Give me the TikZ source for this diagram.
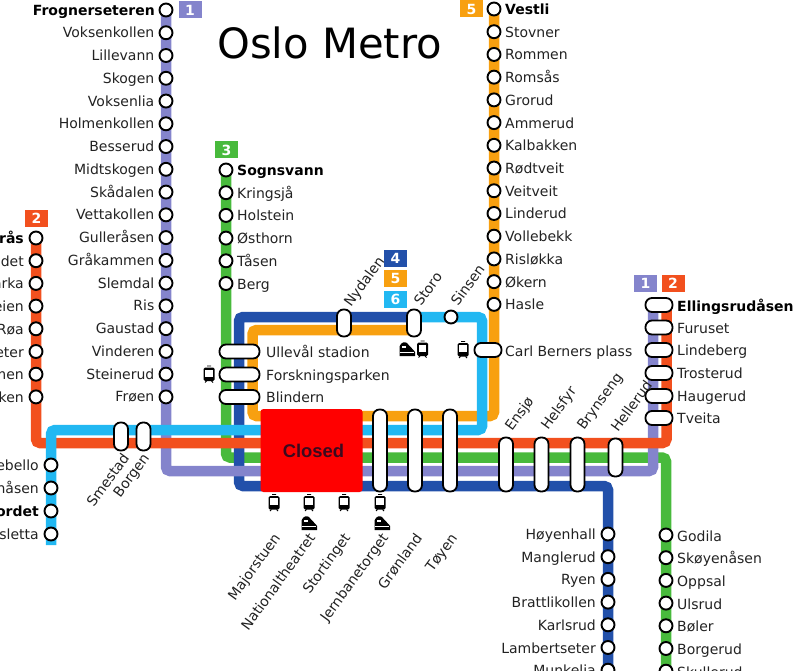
\documentclass[tikz,border=0pt]{standalone}
\usepackage{fontspec}
\setmainfont{DejaVu Sans}
\newfontfamily\closedfont{Liberation Sans}
\pgfdeclarelayer{lines}
\pgfsetlayers{lines,main}
\definecolor{cone}{HTML}{8484CC}
\definecolor{ctwo}{HTML}{F2501E}
\definecolor{cthree}{HTML}{48BA3C}
\definecolor{cfour}{HTML}{2250AA}
\definecolor{cfive}{HTML}{F8A010}
\definecolor{csix}{HTML}{22B8F2}
\definecolor{ctext}{HTML}{222222}
\tikzset{
 x=1pt,y=-1pt,
 metro/.style={line width=10.5pt,rounded corners=4pt,line cap=butt},
 stn/.style={circle,draw=black,fill=white,line width=1.9pt,minimum size=13pt,inner sep=0pt},
 hcap/.style={rectangle,rounded corners=6.5pt,draw=black,fill=white,line width=1.8pt,minimum width=#1,minimum height=14pt,inner sep=0pt},
 vcap/.style={rectangle,rounded corners=6.5pt,draw=black,fill=white,line width=1.8pt,minimum width=14pt,minimum height=#1,inner sep=0pt},
 lr/.style={anchor=base west,inner sep=0pt,text=ctext,font=\fontsize{14}{14}\selectfont},
 ll/.style={anchor=base east,inner sep=0pt,text=ctext,font=\fontsize{14}{14}\selectfont},
 boldl/.style={text=black,font=\bfseries\fontsize{14}{14}\selectfont},
 rup/.style={anchor=base west,rotate=54,inner sep=0pt,text=ctext,font=\fontsize{14}{14}\selectfont},
 rdn/.style={anchor=base east,rotate=54,inner sep=0pt,text=ctext,font=\fontsize{14}{14}\selectfont},
 badge/.style={rectangle,minimum width=23pt,minimum height=17pt,inner sep=0pt,text=white,font=\bfseries\fontsize{14}{14}\selectfont},
 tramicon/.pic={
  \fill[black,rounded corners=1.5pt] (-5.5,-7) rectangle (5.5,6.5);
  \fill[white] (-3.8,-5) rectangle (3.8,2);
  \draw[black,line width=0.8pt] (-4,8)--(-2.5,6.5) (4,8)--(2.5,6.5) (-2,-8.5)--(2,-8.5);
 },
 trainicon/.pic={
  \fill[black] (-7.5,7)--(-7.5,-2.5).. controls (-6,-7) and (-2,-7.5) .. (0,-6) .. controls (3,-2) and (7,1) .. (8,3)--(8,7)--cycle;
  \fill[white] (-5.5,-3.5) rectangle (-1,-1.5);
  \draw[white,line width=1pt] (-7.5,3)--(7,3);
 }
}
\begin{document}
\begin{tikzpicture}
\useasboundingbox (0,0) rectangle (800,671);
% line 1 stations
\node[stn] (frogner) at (166,10) {};
\foreach \n/\t [count=\i from 1] in {voksenk/Voksenkollen,lillev/Lillevann,skogen/Skogen,voksenl/Voksenlia,holmenk/Holmenkollen,besserud/Besserud,midtsk/Midtskogen,skadalen/Skådalen,vettak/Vettakollen,gulleras/Gulleråsen,grakam/Gråkammen,slemdal/Slemdal,ris/Ris,gaustad/Gaustad,vinderen/Vinderen,steinerud/Steinerud,froen/Frøen}{
 \node[stn] (\n) at (166,{10+22.76*\i}) {};
 \node[ll] (\n-t) at (154.5,{15+22.76*\i}) {\t};
}
\node[ll,boldl] (frogner-t) at (155,15.5) {Frognerseteren};
% line 3 stations
\node[stn] (sognsv) at (226,170) {};
\node[lr,boldl] (sognsv-t) at (237,175.5) {Sognsvann};
\foreach \n/\t [count=\i from 1] in {kringsja/Kringsjå,holstein/Holstein,osthorn/Østhorn,tasen/Tåsen,berg/Berg}{
 \node[stn] (\n) at (226,{170+22.7*\i}) {};
 \node[lr] (\n-t) at (237,{175.5+22.7*\i}) {\t};
}
% line 5 stations
\node[stn] (vestli) at (494,9) {};
\node[lr,boldl] (vestli-t) at (505,15) {Vestli};
\foreach \n/\t [count=\i from 1] in {stovner/Stovner,rommen/Rommen,romsas/Romsås,grorud/Grorud,ammerud/Ammerud,kalbakken/Kalbakken,rodtveit/Rødtveit,veitveit/Veitveit,linderud/Linderud,vollebekk/Vollebekk,rislokka/Risløkka,okern/Økern,hasle/Hasle}{
 \node[stn] (\n) at (494,{9+22.72*\i}) {};
 \node[lr] (\n-t) at (505,{14.5+22.72*\i}) {\t};
}
% line 2 west
\node[stn] (osteras) at (36,238) {};
\node[ll,boldl] (osteras-t) at (24,243.5) {rås};
\foreach \n/\t [count=\i from 1] in {lij/det,eik/arka,ekr/eien,roa/Røa,hov/eter,hol/men,mak/ken}{
 \node[stn] (\n) at (36,{238+22.7*\i}) {};
 \node[ll] (\n-t) at (24,{243.5+22.7*\i}) {\t};
}
% line 6 west
\foreach \n/\t/\y in {wa/ebello/465,wb/nåsen/488,wd/sletta/534}{
 \node[stn] (\n) at (51,\y) {};
 \node[ll] (\n-t) at (39,\y+5.5) {\t};
}
\node[stn] (wc) at (51,511) {};
\node[ll,boldl] (wc-t) at (39,516.5) {ordet};
% line 4 south
\foreach \n/\t [count=\i from 0] in {hoyen/Høyenhall,mangl/Manglerud,ryen/Ryen,bratt/Brattlikollen,karls/Karlsrud,lamb/Lambertseter,munk/Munkelia}{
 \node[stn] (\n) at (608,{534+22.7*\i}) {};
 \node[ll] (\n-t) at (596,{539.5+22.7*\i}) {\t};
}
% line 3 south
\foreach \n/\t [count=\i from 0] in {godila/Godila,skoy/Skøyenåsen,oppsal/Oppsal,ulsrud/Ulsrud,boler/Bøler,borger/Borgerud,skull/Skullerud}{
 \node[stn] (\n) at (666,{535+22.7*\i}) {};
 \node[lr] (\n-t) at (677,{541+22.7*\i}) {\t};
}
% interchange capsules
\foreach \n/\t/\y in {ull/Ullevål stadion/351.5,fors/Forskningsparken/374.5,blind/Blindern/397}{
 \node[hcap=40pt] (\n) at (239.5,\y) {};
 \node[lr] (\n-t) at (266,\y+5.5) {\t};
}
\node[hcap=27pt] (carl) at (488,350) {};
\node[lr] (carl-t) at (505,356) {Carl Berners plass};
\node[hcap=27pt] (ell) at (659,305) {};
\node[lr,boldl] (ell-t) at (677,311) {Ellingsrudåsen};
\foreach \n/\t/\y in {fur/Furuset/327.5,lin/Lindeberg/350,tro/Trosterud/373,hau/Haugerud/396,tve/Tveita/418}{
 \node[hcap=27pt] (\n) at (659,\y) {};
 \node[lr] (\n-t) at (677,\y+5.5) {\t};
}
\node[vcap=27pt] (nyd) at (344,323) {};
\node[vcap=27pt] (storo) at (414,323) {};
\node[stn] (sinsen) at (451,317) {};
\node[vcap=28pt] (smestad) at (121,436.5) {};
\node[vcap=28pt] (borgen) at (143.5,436.5) {};
\node[vcap=82pt] (jern) at (380,450.5) {};
\node[vcap=82pt] (gron) at (415,450.5) {};
\node[vcap=82pt] (toyen) at (450,450.5) {};
\node[vcap=54pt] (ensjo) at (506,464.5) {};
\node[vcap=54pt] (helsfyr) at (541.5,464.5) {};
\node[vcap=54pt] (brynseng) at (577.5,464.5) {};
\node[vcap=38pt] (hellerud) at (615.5,457.5) {};
% closed block
\node[rectangle,rounded corners=3pt,fill=red,minimum width=102pt,minimum height=83pt,inner sep=0pt,
 font=\closedfont\bfseries\fontsize{18.4}{18.4}\selectfont,text={rgb,255:red,60;green,10;blue,30}] (closed) at (311.5,450.5) {\hspace*{4pt}Closed};
% rotated labels
\node[rup] (nyd-t) at (351,308) {Nydalen};
\node[rup] (storo-t) at (421,307) {Storo};
\node[rup] (sinsen-t) at (458,307) {Sinsen};
\node[rdn] (smestad-t) at (130,458) {Smestad};
\node[rdn] (borgen-t) at (150,458) {Borgen};
\node[rup] (ensjo-t) at (512,432) {Ensjø};
\node[rup] (helsfyr-t) at (548,431) {Helsfyr};
\node[rup] (brynseng-t) at (584,431) {Brynseng};
\node[rup] (hellerud-t) at (618,433) {Hellerud};
\node[rdn] (maj-t) at (281,538) {Majorstuen};
\node[rdn] (nat-t) at (316,538) {Nationaltheatret};
\node[rdn] (sto-t) at (351,538) {Stortinget};
\node[rdn] (jer-t) at (389,538) {Jernbanetorget};
\node[rdn] (gro-t) at (423,538) {Grønland};
\node[rdn] (toy-t) at (458,538) {Tøyen};
% badges
\node[badge,fill=cone] (b1) at (190,10) {1};
\node[badge,fill=cfive] (b5) at (471.5,9) {5};
\node[badge,fill=cthree] (b3) at (226.5,150) {3};
\node[badge,fill=ctwo] (b2) at (36.5,218.5) {2};
\node[badge,fill=cfour] (b4m) at (395.5,258) {4};
\node[badge,fill=cfive] (b5m) at (395.5,278.5) {5};
\node[badge,fill=csix] (b6m) at (395.5,299.5) {6};
\node[badge,fill=cone] (b1e) at (645.5,283.5) {1};
\node[badge,fill=ctwo] (b2e) at (673,283.5) {2};
% icons
\pic at (209,374.5) {tramicon};
\pic at (274,503) {tramicon};
\pic at (309,503) {tramicon};
\pic at (344,503) {tramicon};
\pic at (380,503) {tramicon};
\pic at (422.5,349.5) {tramicon};
\pic at (463,350) {tramicon};
\pic at (309,523) {trainicon};
\pic at (382,523) {trainicon};
\pic at (407,349) {trainicon};
% title
\node[anchor=base,inner sep=0pt,text=black,font=\fontsize{41.7}{41.7}\selectfont] (title) at (329.5,59) {Oslo Metro};
% lines
\coordinate (s3) at (666,671);
\coordinate (s4) at (608,671);
\coordinate (s6) at (51,545);
\coordinate (storoa) at (414,317);
\coordinate (storob) at (414,330);
\coordinate (ella) at (653,305);
\coordinate (ellb) at (666.5,305);
\begin{pgfonlayer}{lines}
\draw[metro,cthree] (sognsv.center) -- (226,457.5) -- (666,457.5) -- (s3);
\draw[metro,cfive] (storob) -- (252.5,330) -- (252.5,416) -- (494,416) -- (vestli.center);
\draw[metro,cfour] (storoa) -- (239,317) -- (239,486) -- (608,486) -- (s4);
\draw[metro,cone] (frogner.center) -- (166,471) -- (653,471) -- (ella);
\draw[metro,ctwo] (osteras.center) -- (36,443) -- (666.5,443) -- (ellb);
\draw[metro,csix] (s6) -- (51,430) -- (482,430) -- (482,317) -- (storoa);
\end{pgfonlayer}
\end{tikzpicture}
\end{document}
